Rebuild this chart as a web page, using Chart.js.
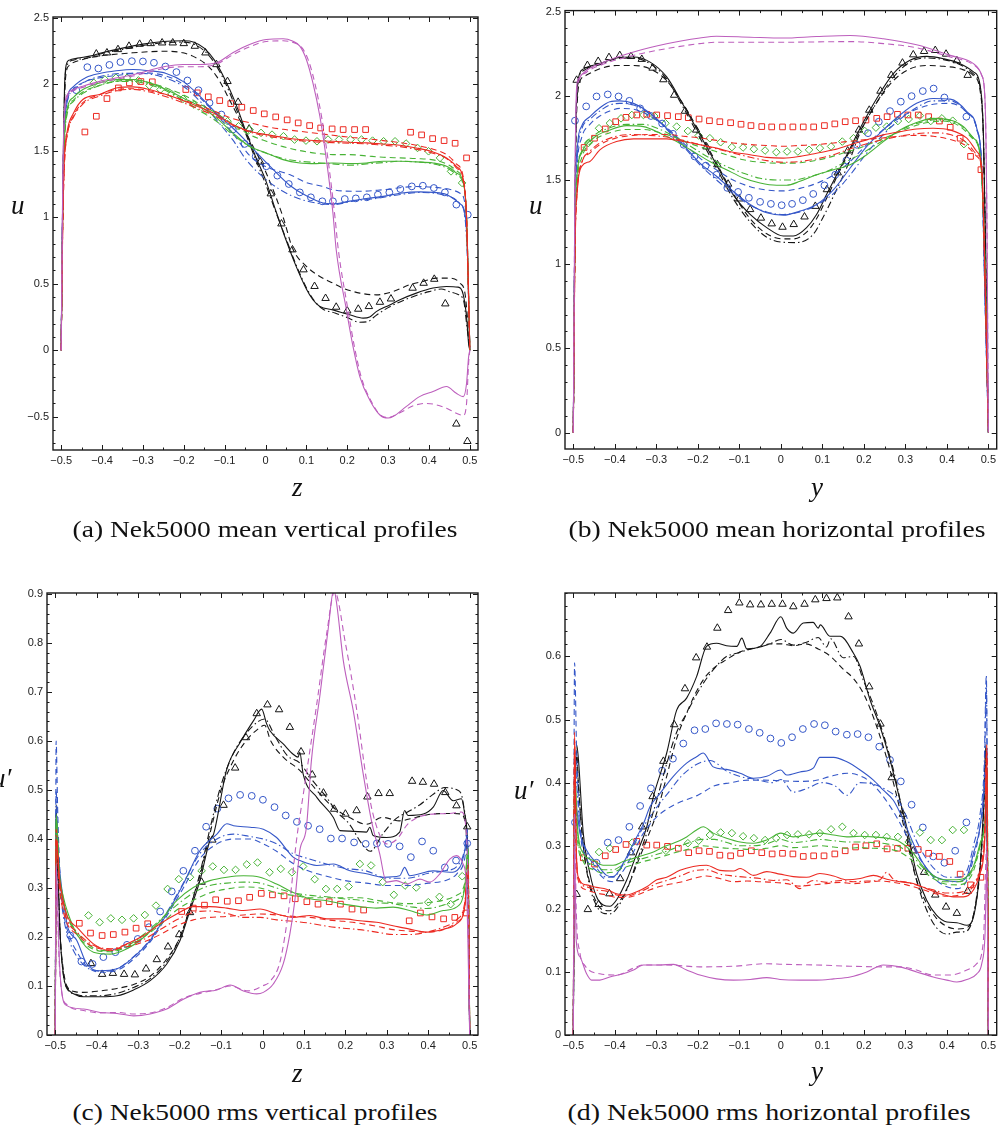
<!DOCTYPE html>
<html>
<head>
<meta charset="utf-8">
<script src="https://cdn.jsdelivr.net/npm/chart.js@4/dist/chart.umd.min.js"></script>
<style>
  html, body { margin: 0; padding: 0; background: #fff; }
  body { width: 1002px; height: 1132px; position: relative; overflow: hidden; }
  canvas { position: absolute; }
  .cap { position: absolute; font-family: "Liberation Serif", serif; font-size: 24px; line-height: 24px;
         white-space: nowrap; color: #111; transform: translateX(-50%); transform-origin: 50% 50%; }
  .lab { position: absolute; font-family: "Liberation Serif", serif; font-style: italic; font-size: 27px;
         line-height: 27px; white-space: nowrap; color: #111; }
</style>
</head>
<body>
<canvas id="cA" width="490" height="480" style="left:0;top:0"></canvas>
<canvas id="cB" width="497" height="480" style="left:505px;top:0"></canvas>
<canvas id="cC" width="490" height="490" style="left:0;top:570px"></canvas>
<canvas id="cD" width="497" height="490" style="left:505px;top:570px"></canvas>

<div class="lab" style="left:11px;top:192px">u</div>
<div class="lab" style="left:292px;top:474px">z</div>
<div class="lab" style="left:529px;top:192px">u</div>
<div class="lab" style="left:811px;top:474px">y</div>
<div class="lab" style="left:-8px;top:765px">u′</div>
<div class="lab" style="left:292px;top:1060px">z</div>
<div class="lab" style="left:514px;top:777px">u′</div>
<div class="lab" style="left:811px;top:1058px">y</div>

<div class="cap" data-w="385" style="left:265px;top:517px">(a) Nek5000 mean vertical profiles</div>
<div class="cap" data-w="417" style="left:777px;top:517px">(b) Nek5000 mean horizontal profiles</div>
<div class="cap" data-w="365" style="left:255px;top:1100px">(c) Nek5000 rms vertical profiles</div>
<div class="cap" data-w="403" style="left:769px;top:1100px">(d) Nek5000 rms horizontal profiles</div>

<script>
// ---------- (a) mean vertical profiles, u against z ----------
const mvTri = [[-0.414,2.227],[-0.388,2.235],[-0.361,2.26],[-0.334,2.285],[-0.308,2.30],[-0.281,2.305],[-0.253,2.31],[-0.227,2.31],[-0.200,2.305],[-0.173,2.285],[-0.147,2.235],[-0.120,2.147],[-0.093,2.02],[-0.067,1.864],[-0.040,1.663],[-0.013,1.415],[0.013,1.176],[0.039,0.95],[0.066,0.755],[0.093,0.605],[0.12,0.48],[0.147,0.39],[0.173,0.324],[0.2,0.296],[0.227,0.309],[0.253,0.329],[0.28,0.361],[0.307,0.386],[0.36,0.467],[0.387,0.504],[0.413,0.534],[0.44,0.349],[0.467,-0.554],[0.494,-0.685]];
const mvCirc = [[-0.463,1.954],[-0.436,2.127],[-0.409,2.117],[-0.382,2.144],[-0.355,2.165],[-0.327,2.172],[-0.3,2.17],[-0.273,2.16],[-0.245,2.132],[-0.218,2.09],[-0.191,2.027],[-0.164,1.954],[-0.137,1.859],[-0.108,1.771],[-0.08,1.658],[-0.051,1.55],[-0.024,1.457],[0.002,1.382],[0.029,1.312],[0.057,1.249],[0.084,1.186],[0.111,1.149],[0.139,1.119],[0.165,1.119],[0.194,1.136],[0.221,1.141],[0.248,1.149],[0.275,1.169],[0.303,1.186],[0.33,1.211],[0.358,1.231],[0.385,1.236],[0.412,1.219],[0.439,1.186],[0.467,1.094],[0.495,1.018]];
const mvDiam = [[-0.42,2.009],[-0.393,2.034],[-0.366,2.047],[-0.339,2.047],[-0.311,2.027],[-0.284,1.989],[-0.257,1.959],[-0.23,1.926],[-0.202,1.889],[-0.175,1.846],[-0.147,1.803],[-0.12,1.763],[-0.093,1.721],[-0.066,1.683],[-0.039,1.658],[-0.011,1.633],[0.016,1.62],[0.044,1.608],[0.071,1.583],[0.099,1.575],[0.126,1.57],[0.153,1.583],[0.18,1.583],[0.208,1.583],[0.235,1.583],[0.262,1.575],[0.289,1.57],[0.317,1.57],[0.344,1.553],[0.372,1.52],[0.399,1.495],[0.427,1.445],[0.454,1.344],[0.481,1.257]];
const mvSq = [[-0.442,1.64],[-0.414,1.758],[-0.388,1.891],[-0.36,1.971],[-0.333,2.009],[-0.305,2.019],[-0.277,2.017],[-0.195,1.959],[-0.167,1.934],[-0.14,1.904],[-0.112,1.876],[-0.085,1.853],[-0.058,1.826],[-0.03,1.801],[-0.003,1.776],[0.025,1.753],[0.053,1.731],[0.08,1.708],[0.108,1.688],[0.135,1.67],[0.163,1.663],[0.19,1.658],[0.218,1.658],[0.245,1.658],[0.355,1.638],[0.382,1.618],[0.409,1.59],[0.437,1.575],[0.464,1.555],[0.492,1.445]];
const mvBlackSolid = [[-0.5,0],[-0.496,1.2],[-0.492,1.95],[-0.488,2.14],[-0.48,2.18],[-0.46,2.195],[-0.43,2.21],[-0.4,2.235],[-0.35,2.27],[-0.3,2.30],[-0.25,2.32],[-0.2,2.325],[-0.175,2.315],[-0.15,2.27],[-0.125,2.18],[-0.1,2.04],[-0.075,1.87],[-0.05,1.66],[-0.025,1.46],[0,1.28],[0.025,1.05],[0.05,0.83],[0.075,0.63],[0.1,0.46],[0.116,0.379],[0.133,0.329],[0.165,0.303],[0.206,0.266],[0.239,0.241],[0.255,0.25],[0.271,0.29],[0.304,0.34],[0.329,0.379],[0.369,0.429],[0.41,0.467],[0.443,0.479],[0.471,0.474],[0.484,0.416],[0.492,0.25],[0.497,0.05],[0.5,0]];
const mvBlackDash = [[-0.5,0],[-0.496,1.1],[-0.492,1.85],[-0.488,2.08],[-0.48,2.14],[-0.447,2.185],[-0.406,2.21],[-0.324,2.235],[-0.243,2.247],[-0.202,2.235],[-0.178,2.21],[-0.145,2.147],[-0.12,2.06],[-0.08,1.833],[-0.039,1.583],[0.002,1.33],[0.043,1.0],[0.067,0.76],[0.1,0.63],[0.133,0.554],[0.165,0.504],[0.19,0.466],[0.231,0.429],[0.271,0.416],[0.312,0.441],[0.353,0.492],[0.386,0.517],[0.418,0.542],[0.451,0.542],[0.476,0.504],[0.488,0.43],[0.494,0.25],[0.5,0]];
const mvBlackDot = [[-0.5,0],[-0.496,1.15],[-0.492,1.9],[-0.488,2.12],[-0.47,2.18],[-0.43,2.2],[-0.4,2.23],[-0.35,2.26],[-0.3,2.29],[-0.25,2.31],[-0.2,2.315],[-0.175,2.3],[-0.15,2.25],[-0.125,2.16],[-0.1,2.02],[-0.075,1.84],[-0.05,1.64],[-0.025,1.44],[0,1.25],[0.025,1.04],[0.05,0.84],[0.075,0.64],[0.1,0.47],[0.12,0.37],[0.14,0.31],[0.17,0.28],[0.2,0.245],[0.23,0.21],[0.25,0.215],[0.27,0.26],[0.3,0.32],[0.35,0.39],[0.4,0.44],[0.43,0.46],[0.45,0.44],[0.47,0.42],[0.485,0.37],[0.492,0.2],[0.5,0]];
const mvBlueSolid = [[-0.5,0],[-0.496,1.2],[-0.492,1.7],[-0.485,1.9],[-0.47,1.98],[-0.439,2.05],[-0.406,2.08],[-0.365,2.1],[-0.324,2.11],[-0.284,2.10],[-0.243,2.08],[-0.202,2.02],[-0.161,1.91],[-0.12,1.78],[-0.08,1.67],[-0.047,1.57],[-0.014,1.46],[0.018,1.36],[0.059,1.24],[0.1,1.16],[0.141,1.106],[0.165,1.10],[0.206,1.12],[0.247,1.14],[0.288,1.156],[0.329,1.18],[0.378,1.19],[0.41,1.186],[0.443,1.17],[0.476,1.1],[0.488,1.03],[0.494,0.75],[0.5,0]];
const mvBlueDash = [[-0.5,0],[-0.496,1.15],[-0.492,1.65],[-0.485,1.87],[-0.47,1.96],[-0.44,2.02],[-0.4,2.05],[-0.35,2.07],[-0.3,2.085],[-0.243,2.06],[-0.202,2.0],[-0.161,1.9],[-0.12,1.77],[-0.08,1.63],[-0.037,1.457],[0.0,1.38],[0.059,1.32],[0.1,1.26],[0.141,1.23],[0.165,1.206],[0.228,1.194],[0.288,1.206],[0.369,1.23],[0.43,1.219],[0.476,1.18],[0.488,1.1],[0.494,0.8],[0.5,0]];
const mvBlueDot = [[-0.5,0],[-0.496,1.15],[-0.492,1.65],[-0.485,1.87],[-0.47,1.95],[-0.44,2.02],[-0.4,2.06],[-0.35,2.08],[-0.3,2.08],[-0.25,2.05],[-0.2,1.98],[-0.16,1.87],[-0.12,1.73],[-0.08,1.58],[-0.047,1.43],[0.002,1.28],[0.067,1.156],[0.124,1.106],[0.165,1.094],[0.214,1.12],[0.27,1.14],[0.33,1.17],[0.38,1.185],[0.43,1.17],[0.476,1.1],[0.488,1.0],[0.494,0.7],[0.5,0]];
const mvGreenSolid = [[-0.5,0],[-0.496,1.1],[-0.492,1.6],[-0.485,1.82],[-0.47,1.9],[-0.447,1.959],[-0.406,2.009],[-0.365,2.034],[-0.324,2.034],[-0.284,2.009],[-0.243,1.959],[-0.202,1.896],[-0.161,1.833],[-0.12,1.746],[-0.08,1.633],[-0.039,1.532],[0.002,1.482],[0.043,1.432],[0.084,1.407],[0.124,1.402],[0.165,1.407],[0.206,1.402],[0.247,1.407],[0.288,1.42],[0.329,1.42],[0.369,1.415],[0.41,1.407],[0.443,1.382],[0.467,1.332],[0.484,1.257],[0.492,1.0],[0.497,0.4],[0.5,0]];
const mvGreenDash = [[-0.5,0],[-0.496,1.05],[-0.492,1.55],[-0.485,1.8],[-0.47,1.88],[-0.447,1.94],[-0.406,1.99],[-0.365,2.02],[-0.324,2.03],[-0.284,2.01],[-0.243,1.97],[-0.202,1.92],[-0.161,1.85],[-0.12,1.78],[-0.08,1.70],[-0.039,1.62],[0.002,1.57],[0.043,1.53],[0.084,1.5],[0.124,1.48],[0.165,1.47],[0.206,1.47],[0.247,1.46],[0.288,1.45],[0.329,1.445],[0.369,1.44],[0.41,1.43],[0.443,1.40],[0.467,1.35],[0.484,1.26],[0.492,1.0],[0.497,0.4],[0.5,0]];
const mvGreenDot = [[-0.5,0],[-0.496,1.05],[-0.492,1.55],[-0.485,1.78],[-0.47,1.87],[-0.447,1.93],[-0.406,1.99],[-0.365,2.02],[-0.324,2.02],[-0.284,1.995],[-0.243,1.95],[-0.202,1.88],[-0.161,1.8],[-0.12,1.72],[-0.08,1.62],[-0.039,1.53],[0.002,1.48],[0.043,1.44],[0.084,1.42],[0.124,1.41],[0.165,1.40],[0.206,1.39],[0.247,1.40],[0.288,1.41],[0.329,1.42],[0.369,1.415],[0.41,1.40],[0.443,1.37],[0.467,1.32],[0.484,1.24],[0.492,1.0],[0.497,0.4],[0.5,0]];
const mvRedSolid = [[-0.5,0],[-0.496,1.0],[-0.492,1.45],[-0.485,1.65],[-0.47,1.78],[-0.447,1.884],[-0.406,1.921],[-0.365,1.971],[-0.324,1.979],[-0.284,1.959],[-0.243,1.921],[-0.202,1.876],[-0.161,1.826],[-0.12,1.771],[-0.08,1.696],[-0.039,1.645],[0.002,1.62],[0.043,1.6],[0.084,1.583],[0.124,1.575],[0.165,1.57],[0.206,1.563],[0.247,1.558],[0.288,1.55],[0.329,1.54],[0.369,1.52],[0.41,1.49],[0.443,1.445],[0.467,1.382],[0.484,1.28],[0.492,1.0],[0.497,0.4],[0.5,0]];
const mvRedDash = [[-0.5,0],[-0.496,0.95],[-0.492,1.4],[-0.485,1.62],[-0.47,1.76],[-0.447,1.86],[-0.406,1.92],[-0.365,1.96],[-0.324,1.965],[-0.284,1.95],[-0.243,1.92],[-0.202,1.88],[-0.161,1.84],[-0.12,1.79],[-0.08,1.74],[-0.039,1.71],[0.002,1.68],[0.043,1.66],[0.084,1.645],[0.124,1.63],[0.165,1.615],[0.206,1.6],[0.247,1.59],[0.288,1.575],[0.329,1.56],[0.369,1.54],[0.41,1.51],[0.443,1.47],[0.467,1.40],[0.484,1.3],[0.492,1.0],[0.497,0.4],[0.5,0]];
const mvRedDot = [[-0.5,0],[-0.496,0.95],[-0.492,1.4],[-0.485,1.62],[-0.47,1.75],[-0.447,1.85],[-0.406,1.91],[-0.365,1.95],[-0.324,1.96],[-0.284,1.94],[-0.243,1.905],[-0.202,1.86],[-0.161,1.81],[-0.12,1.755],[-0.08,1.69],[-0.039,1.64],[0.002,1.61],[0.043,1.59],[0.084,1.575],[0.124,1.565],[0.165,1.56],[0.206,1.555],[0.247,1.55],[0.288,1.54],[0.329,1.53],[0.369,1.51],[0.41,1.48],[0.443,1.44],[0.467,1.37],[0.484,1.27],[0.492,1.0],[0.497,0.4],[0.5,0]];
const mvMagSolid = [[-0.5,0],[-0.496,1.3],[-0.492,1.8],[-0.485,1.92],[-0.47,1.96],[-0.447,1.984],[-0.406,2.02],[-0.324,2.07],[-0.243,2.134],[-0.202,2.147],[-0.161,2.147],[-0.12,2.16],[-0.08,2.235],[-0.039,2.297],[0.002,2.335],[0.043,2.34],[0.066,2.323],[0.084,2.285],[0.1,2.185],[0.116,2.009],[0.133,1.758],[0.149,1.432],[0.165,1.031],[0.173,0.755],[0.198,0.303],[0.214,0.03],[0.231,-0.2],[0.255,-0.374],[0.28,-0.487],[0.3,-0.51],[0.312,-0.499],[0.344,-0.424],[0.377,-0.349],[0.41,-0.311],[0.443,-0.273],[0.467,-0.324],[0.484,-0.349],[0.492,-0.25],[0.497,-0.05],[0.5,0]];
const mvMagDash = [[-0.5,0],[-0.496,1.25],[-0.492,1.75],[-0.485,1.9],[-0.47,1.95],[-0.447,1.975],[-0.406,2.01],[-0.324,2.06],[-0.243,2.12],[-0.202,2.13],[-0.161,2.13],[-0.12,2.15],[-0.08,2.22],[-0.039,2.28],[0.002,2.32],[0.043,2.325],[0.07,2.31],[0.09,2.27],[0.106,2.17],[0.122,1.99],[0.138,1.74],[0.154,1.41],[0.17,1.0],[0.178,0.76],[0.202,0.3],[0.218,0.02],[0.235,-0.21],[0.258,-0.38],[0.282,-0.49],[0.3,-0.505],[0.329,-0.47],[0.36,-0.42],[0.39,-0.40],[0.41,-0.405],[0.443,-0.436],[0.467,-0.474],[0.484,-0.49],[0.492,-0.4],[0.497,-0.1],[0.5,0]];

// ---------- (b) mean horizontal profiles, u against y ----------
const mhTri = [[-0.492,2.093],[-0.466,2.181],[-0.44,2.205],[-0.414,2.228],[-0.388,2.24],[-0.361,2.234],[-0.335,2.217],[-0.309,2.165],[-0.283,2.096],[-0.257,2.004],[-0.231,1.909],[-0.204,1.797],[-0.179,1.697],[-0.153,1.591],[-0.127,1.476],[-0.1,1.388],[-0.074,1.325],[-0.048,1.274],[-0.022,1.24],[0.004,1.22],[0.031,1.236],[0.057,1.281],[0.083,1.344],[0.111,1.443],[0.137,1.543],[0.161,1.673],[0.188,1.797],[0.213,1.915],[0.24,2.028],[0.266,2.122],[0.293,2.195],[0.319,2.244],[0.345,2.264],[0.372,2.27],[0.398,2.248],[0.424,2.209],[0.45,2.122]];
const mhCirc = [[-0.496,1.852],[-0.469,1.937],[-0.444,1.996],[-0.417,2.008],[-0.391,1.996],[-0.365,1.97],[-0.339,1.925],[-0.313,1.88],[-0.286,1.835],[-0.26,1.774],[-0.234,1.709],[-0.208,1.64],[-0.181,1.585],[-0.155,1.531],[-0.129,1.453],[-0.103,1.429],[-0.077,1.394],[-0.05,1.37],[-0.024,1.358],[0.002,1.35],[0.027,1.358],[0.053,1.38],[0.078,1.417],[0.105,1.468],[0.131,1.531],[0.158,1.616],[0.183,1.709],[0.21,1.778],[0.236,1.846],[0.263,1.909],[0.289,1.965],[0.315,1.998],[0.342,2.028],[0.368,2.043],[0.394,1.99],[0.447,1.876]];
const mhDiam = [[-0.464,1.719],[-0.438,1.807],[-0.412,1.837],[-0.385,1.866],[-0.359,1.886],[-0.331,1.886],[-0.305,1.88],[-0.278,1.837],[-0.251,1.817],[-0.224,1.791],[-0.198,1.764],[-0.171,1.748],[-0.145,1.724],[-0.118,1.695],[-0.091,1.693],[-0.065,1.683],[-0.038,1.675],[-0.011,1.665],[0.015,1.669],[0.041,1.669],[0.068,1.679],[0.094,1.689],[0.121,1.699],[0.148,1.728],[0.175,1.748],[0.202,1.791],[0.229,1.811],[0.255,1.817],[0.282,1.85],[0.308,1.862],[0.335,1.882],[0.361,1.85],[0.388,1.866],[0.414,1.852],[0.441,1.713]];
const mhSq = [[-0.474,1.693],[-0.449,1.748],[-0.423,1.803],[-0.398,1.846],[-0.373,1.872],[-0.347,1.886],[-0.323,1.89],[-0.299,1.886],[-0.273,1.882],[-0.247,1.876],[-0.223,1.87],[-0.197,1.862],[-0.172,1.852],[-0.147,1.846],[-0.121,1.84],[-0.096,1.831],[-0.072,1.823],[-0.046,1.817],[-0.022,1.815],[0.004,1.815],[0.029,1.815],[0.054,1.815],[0.079,1.815],[0.105,1.823],[0.13,1.833],[0.155,1.846],[0.18,1.852],[0.205,1.856],[0.231,1.866],[0.256,1.876],[0.281,1.89],[0.306,1.886],[0.331,1.886],[0.356,1.876],[0.382,1.85],[0.408,1.813],[0.432,1.748],[0.457,1.64],[0.482,1.561]];
const mhBlackSolid = [[-0.5,0],[-0.497,1.0],[-0.494,1.8],[-0.49,2.05],[-0.485,2.13],[-0.475,2.16],[-0.436,2.191],[-0.396,2.224],[-0.355,2.23],[-0.315,2.2],[-0.275,2.112],[-0.235,1.945],[-0.195,1.768],[-0.155,1.591],[-0.115,1.413],[-0.074,1.295],[-0.034,1.217],[0.006,1.167],[0.03,1.167],[0.062,1.217],[0.086,1.295],[0.11,1.413],[0.151,1.61],[0.191,1.807],[0.231,1.984],[0.271,2.132],[0.311,2.211],[0.351,2.234],[0.392,2.22],[0.432,2.191],[0.464,2.142],[0.48,2.063],[0.488,1.77],[0.494,0.98],[0.5,0]];
const mhBlackDash = [[-0.5,0],[-0.497,0.95],[-0.494,1.7],[-0.49,1.98],[-0.485,2.08],[-0.47,2.12],[-0.436,2.16],[-0.396,2.18],[-0.355,2.18],[-0.315,2.16],[-0.275,2.09],[-0.235,1.95],[-0.195,1.78],[-0.155,1.6],[-0.115,1.42],[-0.074,1.27],[-0.034,1.18],[0.006,1.15],[0.03,1.15],[0.062,1.19],[0.086,1.27],[0.11,1.39],[0.151,1.6],[0.191,1.79],[0.231,1.96],[0.271,2.09],[0.311,2.16],[0.351,2.18],[0.392,2.175],[0.432,2.16],[0.464,2.12],[0.48,2.03],[0.488,1.74],[0.494,0.95],[0.5,0]];
const mhBlackDot = [[-0.5,0],[-0.497,1.0],[-0.494,1.75],[-0.49,2.03],[-0.485,2.12],[-0.475,2.15],[-0.436,2.185],[-0.396,2.22],[-0.355,2.225],[-0.315,2.19],[-0.275,2.1],[-0.235,1.93],[-0.195,1.75],[-0.155,1.57],[-0.115,1.39],[-0.074,1.25],[-0.034,1.16],[0.006,1.13],[0.038,1.128],[0.078,1.177],[0.1,1.27],[0.13,1.42],[0.16,1.58],[0.191,1.78],[0.231,1.96],[0.271,2.11],[0.311,2.2],[0.351,2.225],[0.392,2.215],[0.432,2.185],[0.464,2.13],[0.48,2.05],[0.488,1.76],[0.494,0.97],[0.5,0]];
const mhBlueSolid = [[-0.5,0],[-0.496,1.3],[-0.49,1.7],[-0.48,1.82],[-0.46,1.876],[-0.436,1.929],[-0.412,1.965],[-0.388,1.97],[-0.355,1.955],[-0.315,1.896],[-0.275,1.807],[-0.235,1.709],[-0.195,1.6],[-0.155,1.522],[-0.115,1.433],[-0.074,1.354],[-0.034,1.305],[0.006,1.291],[0.046,1.315],[0.086,1.354],[0.127,1.443],[0.167,1.571],[0.207,1.699],[0.247,1.797],[0.287,1.886],[0.327,1.955],[0.367,1.984],[0.408,1.98],[0.448,1.906],[0.472,1.807],[0.484,1.571],[0.492,0.78],[0.5,0]];
const mhBlueDash = [[-0.5,0],[-0.496,1.2],[-0.49,1.6],[-0.48,1.75],[-0.46,1.83],[-0.436,1.88],[-0.412,1.91],[-0.388,1.925],[-0.355,1.92],[-0.315,1.88],[-0.275,1.81],[-0.235,1.72],[-0.195,1.63],[-0.155,1.56],[-0.115,1.5],[-0.074,1.46],[-0.034,1.44],[0.006,1.435],[0.046,1.45],[0.086,1.48],[0.127,1.53],[0.167,1.61],[0.207,1.71],[0.247,1.8],[0.287,1.87],[0.327,1.92],[0.367,1.95],[0.408,1.955],[0.448,1.9],[0.472,1.8],[0.484,1.56],[0.492,0.78],[0.5,0]];
const mhBlueDot = [[-0.5,0],[-0.496,1.25],[-0.49,1.65],[-0.48,1.8],[-0.46,1.86],[-0.436,1.91],[-0.412,1.945],[-0.388,1.955],[-0.355,1.945],[-0.315,1.89],[-0.275,1.80],[-0.235,1.70],[-0.195,1.59],[-0.155,1.5],[-0.115,1.42],[-0.074,1.35],[-0.034,1.31],[0.006,1.295],[0.046,1.31],[0.086,1.35],[0.127,1.42],[0.167,1.53],[0.207,1.66],[0.247,1.77],[0.287,1.86],[0.327,1.93],[0.367,1.97],[0.408,1.97],[0.448,1.9],[0.472,1.8],[0.484,1.56],[0.492,0.78],[0.5,0]];
const mhGreenSolid = [[-0.5,0],[-0.496,1.2],[-0.49,1.55],[-0.48,1.66],[-0.452,1.748],[-0.412,1.797],[-0.371,1.823],[-0.331,1.817],[-0.291,1.778],[-0.251,1.728],[-0.211,1.669],[-0.171,1.61],[-0.131,1.561],[-0.09,1.512],[-0.05,1.482],[-0.01,1.469],[0.014,1.469],[0.046,1.492],[0.086,1.531],[0.127,1.561],[0.167,1.591],[0.207,1.65],[0.247,1.728],[0.287,1.797],[0.327,1.841],[0.367,1.866],[0.408,1.856],[0.44,1.817],[0.464,1.748],[0.48,1.65],[0.492,0.98],[0.5,0]];
const mhGreenDash = [[-0.5,0],[-0.496,1.15],[-0.49,1.5],[-0.48,1.63],[-0.452,1.73],[-0.412,1.78],[-0.371,1.80],[-0.331,1.80],[-0.291,1.78],[-0.251,1.75],[-0.211,1.71],[-0.171,1.68],[-0.131,1.65],[-0.09,1.62],[-0.05,1.605],[-0.01,1.6],[0.03,1.6],[0.07,1.61],[0.11,1.63],[0.15,1.66],[0.19,1.69],[0.23,1.73],[0.27,1.77],[0.31,1.81],[0.35,1.84],[0.39,1.85],[0.43,1.82],[0.464,1.74],[0.48,1.64],[0.492,0.98],[0.5,0]];
const mhGreenDot = [[-0.5,0],[-0.496,1.2],[-0.49,1.55],[-0.48,1.67],[-0.452,1.76],[-0.412,1.81],[-0.371,1.83],[-0.331,1.83],[-0.291,1.8],[-0.251,1.75],[-0.211,1.69],[-0.171,1.63],[-0.131,1.58],[-0.09,1.54],[-0.05,1.51],[-0.01,1.5],[0.03,1.5],[0.07,1.52],[0.11,1.55],[0.15,1.6],[0.19,1.65],[0.23,1.71],[0.27,1.77],[0.31,1.82],[0.35,1.85],[0.39,1.86],[0.43,1.83],[0.464,1.75],[0.48,1.65],[0.492,0.98],[0.5,0]];
const mhRedSolid = [[-0.5,0],[-0.496,1.1],[-0.49,1.45],[-0.48,1.58],[-0.46,1.61],[-0.436,1.679],[-0.396,1.728],[-0.355,1.744],[-0.315,1.744],[-0.275,1.744],[-0.235,1.728],[-0.195,1.709],[-0.155,1.689],[-0.115,1.665],[-0.074,1.65],[-0.034,1.634],[0.006,1.63],[0.046,1.64],[0.086,1.659],[0.127,1.679],[0.167,1.709],[0.207,1.738],[0.247,1.768],[0.287,1.787],[0.327,1.803],[0.367,1.807],[0.408,1.797],[0.448,1.748],[0.472,1.669],[0.484,1.571],[0.492,0.9],[0.5,0]];
const mhRedDash = [[-0.5,0],[-0.496,1.05],[-0.49,1.45],[-0.48,1.6],[-0.46,1.66],[-0.436,1.71],[-0.396,1.75],[-0.355,1.765],[-0.315,1.77],[-0.275,1.77],[-0.235,1.76],[-0.195,1.75],[-0.155,1.735],[-0.115,1.72],[-0.074,1.71],[-0.034,1.705],[0.006,1.70],[0.046,1.705],[0.086,1.71],[0.127,1.72],[0.167,1.73],[0.207,1.74],[0.247,1.75],[0.287,1.76],[0.327,1.765],[0.367,1.76],[0.408,1.74],[0.448,1.70],[0.472,1.64],[0.484,1.55],[0.492,0.9],[0.5,0]];
const mhRedDot = [[-0.5,0],[-0.496,1.05],[-0.49,1.45],[-0.48,1.6],[-0.46,1.67],[-0.436,1.72],[-0.396,1.76],[-0.355,1.77],[-0.315,1.765],[-0.275,1.755],[-0.235,1.735],[-0.195,1.71],[-0.155,1.685],[-0.115,1.66],[-0.074,1.635],[-0.034,1.615],[0.006,1.605],[0.046,1.61],[0.086,1.625],[0.127,1.65],[0.167,1.685],[0.207,1.715],[0.247,1.74],[0.287,1.76],[0.327,1.775],[0.367,1.78],[0.408,1.77],[0.448,1.72],[0.472,1.65],[0.484,1.56],[0.492,0.9],[0.5,0]];
const mhMagSolid = [[-0.5,0],[-0.496,1.5],[-0.492,2.05],[-0.488,2.1],[-0.468,2.152],[-0.436,2.191],[-0.355,2.26],[-0.275,2.309],[-0.195,2.343],[-0.155,2.354],[-0.074,2.348],[0.006,2.343],[0.086,2.352],[0.167,2.358],[0.247,2.339],[0.327,2.303],[0.408,2.24],[0.464,2.191],[0.484,2.122],[0.492,1.965],[0.496,1.374],[0.5,0]];
const mhMagDash = [[-0.5,0],[-0.496,1.45],[-0.492,2.0],[-0.488,2.08],[-0.468,2.14],[-0.436,2.18],[-0.355,2.24],[-0.275,2.28],[-0.195,2.31],[-0.155,2.318],[-0.074,2.318],[0.006,2.318],[0.086,2.32],[0.167,2.322],[0.247,2.31],[0.327,2.285],[0.408,2.23],[0.464,2.185],[0.484,2.12],[0.492,1.96],[0.496,1.37],[0.5,0]];

// ---------- (c) rms vertical profiles, u' against z ----------
const rvTri = [[-0.414,0.146],[-0.387,0.124],[-0.361,0.126],[-0.334,0.124],[-0.308,0.123],[-0.281,0.135],[-0.255,0.154],[-0.228,0.18],[-0.201,0.205],[-0.175,0.25],[-0.147,0.312],[-0.121,0.398],[-0.094,0.469],[-0.066,0.545],[-0.04,0.607],[-0.014,0.656],[0.012,0.674],[0.04,0.664],[0.066,0.628],[0.093,0.578],[0.12,0.531],[0.147,0.494],[0.173,0.461],[0.2,0.451],[0.227,0.458],[0.253,0.486],[0.28,0.493],[0.307,0.493],[0.361,0.518],[0.387,0.516],[0.414,0.512],[0.441,0.495],[0.468,0.468],[0.494,0.425]];
const rvCirc = [[-0.464,0.203],[-0.437,0.15],[-0.41,0.145],[-0.384,0.159],[-0.355,0.169],[-0.327,0.184],[-0.301,0.196],[-0.274,0.22],[-0.247,0.252],[-0.219,0.293],[-0.191,0.335],[-0.163,0.376],[-0.136,0.425],[-0.109,0.462],[-0.082,0.483],[-0.054,0.49],[-0.026,0.488],[0.001,0.48],[0.029,0.465],[0.056,0.448],[0.083,0.435],[0.11,0.427],[0.138,0.42],[0.165,0.401],[0.192,0.401],[0.221,0.393],[0.249,0.39],[0.276,0.391],[0.303,0.39],[0.331,0.385],[0.358,0.363],[0.385,0.395],[0.412,0.376],[0.44,0.342],[0.467,0.356],[0.494,0.391]];
const rvDiam = [[-0.42,0.244],[-0.393,0.23],[-0.366,0.238],[-0.339,0.235],[-0.311,0.238],[-0.284,0.245],[-0.257,0.264],[-0.229,0.298],[-0.202,0.318],[-0.175,0.322],[-0.147,0.335],[-0.12,0.344],[-0.093,0.337],[-0.065,0.337],[-0.038,0.348],[-0.012,0.352],[0.017,0.332],[0.044,0.339],[0.071,0.332],[0.098,0.344],[0.126,0.318],[0.153,0.298],[0.18,0.298],[0.208,0.303],[0.235,0.349],[0.262,0.346],[0.29,0.312],[0.317,0.286],[0.344,0.305],[0.371,0.301],[0.4,0.271],[0.427,0.282],[0.454,0.267],[0.482,0.324]];
const rvSq = [[-0.442,0.228],[-0.415,0.208],[-0.387,0.203],[-0.36,0.205],[-0.332,0.21],[-0.305,0.218],[-0.277,0.227],[-0.195,0.252],[-0.167,0.259],[-0.14,0.265],[-0.113,0.276],[-0.085,0.273],[-0.058,0.274],[-0.031,0.281],[-0.003,0.289],[0.024,0.286],[0.052,0.284],[0.079,0.278],[0.107,0.272],[0.134,0.267],[0.161,0.272],[0.188,0.267],[0.216,0.257],[0.244,0.255],[0.354,0.233],[0.381,0.249],[0.409,0.241],[0.437,0.237],[0.464,0.24],[0.491,0.249]];
const rvBlackSolid = [[-0.5,0],[-0.498,0.47],[-0.494,0.35],[-0.488,0.2],[-0.48,0.12],[-0.472,0.097],[-0.456,0.084],[-0.432,0.078],[-0.392,0.078],[-0.351,0.08],[-0.311,0.092],[-0.271,0.111],[-0.231,0.145],[-0.199,0.193],[-0.175,0.254],[-0.151,0.315],[-0.127,0.397],[-0.118,0.41],[-0.086,0.543],[-0.054,0.597],[-0.022,0.641],[-0.002,0.665],[0.01,0.635],[0.018,0.621],[0.05,0.594],[0.074,0.573],[0.086,0.567],[0.09,0.577],[0.098,0.533],[0.131,0.485],[0.171,0.444],[0.187,0.417],[0.211,0.416],[0.251,0.414],[0.259,0.424],[0.267,0.407],[0.299,0.403],[0.331,0.414],[0.343,0.458],[0.351,0.448],[0.388,0.451],[0.412,0.465],[0.436,0.499],[0.46,0.478],[0.48,0.482],[0.488,0.451],[0.496,0.356],[0.5,0]];
const rvBlackDash = [[-0.5,0],[-0.498,0.45],[-0.494,0.33],[-0.488,0.2],[-0.48,0.13],[-0.472,0.1],[-0.45,0.088],[-0.432,0.087],[-0.392,0.09],[-0.351,0.095],[-0.311,0.103],[-0.271,0.12],[-0.231,0.155],[-0.199,0.2],[-0.175,0.26],[-0.151,0.325],[-0.127,0.41],[-0.1,0.5],[-0.07,0.56],[-0.04,0.6],[-0.01,0.625],[0.005,0.632],[0.02,0.6],[0.05,0.567],[0.09,0.54],[0.13,0.5],[0.17,0.465],[0.21,0.444],[0.25,0.43],[0.29,0.444],[0.33,0.437],[0.37,0.444],[0.41,0.451],[0.45,0.452],[0.48,0.451],[0.49,0.43],[0.496,0.35],[0.5,0]];
const rvBlackDot = [[-0.5,0],[-0.498,0.45],[-0.494,0.34],[-0.488,0.2],[-0.48,0.12],[-0.472,0.095],[-0.45,0.083],[-0.432,0.08],[-0.392,0.08],[-0.351,0.085],[-0.311,0.097],[-0.271,0.115],[-0.231,0.15],[-0.199,0.2],[-0.175,0.26],[-0.151,0.33],[-0.127,0.42],[-0.1,0.51],[-0.07,0.575],[-0.04,0.615],[-0.01,0.64],[0.005,0.645],[0.03,0.61],[0.06,0.57],[0.09,0.555],[0.12,0.52],[0.15,0.49],[0.18,0.455],[0.21,0.43],[0.24,0.39],[0.26,0.375],[0.29,0.41],[0.32,0.44],[0.35,0.455],[0.38,0.47],[0.41,0.49],[0.44,0.505],[0.47,0.5],[0.485,0.47],[0.494,0.35],[0.5,0]];
const rvBlueSolid = [[-0.5,0],[-0.498,0.42],[-0.49,0.34],[-0.48,0.27],[-0.47,0.22],[-0.448,0.193],[-0.424,0.145],[-0.392,0.131],[-0.351,0.135],[-0.311,0.159],[-0.271,0.193],[-0.231,0.247],[-0.191,0.308],[-0.151,0.376],[-0.11,0.41],[-0.086,0.431],[-0.07,0.427],[-0.03,0.424],[0.002,0.42],[0.034,0.403],[0.074,0.363],[0.09,0.356],[0.131,0.346],[0.171,0.349],[0.211,0.335],[0.251,0.329],[0.291,0.322],[0.331,0.325],[0.343,0.342],[0.355,0.325],[0.412,0.335],[0.452,0.332],[0.476,0.342],[0.488,0.376],[0.494,0.41],[0.5,0]];
const rvBlueDash = [[-0.5,0],[-0.498,0.6],[-0.494,0.45],[-0.488,0.32],[-0.48,0.25],[-0.465,0.2],[-0.448,0.17],[-0.424,0.14],[-0.392,0.128],[-0.351,0.132],[-0.311,0.155],[-0.271,0.19],[-0.231,0.243],[-0.191,0.3],[-0.151,0.36],[-0.11,0.39],[-0.07,0.4],[-0.03,0.4],[0.002,0.39],[0.034,0.375],[0.074,0.35],[0.11,0.335],[0.15,0.325],[0.2,0.315],[0.25,0.31],[0.3,0.305],[0.35,0.305],[0.4,0.31],[0.44,0.315],[0.47,0.33],[0.488,0.36],[0.494,0.4],[0.5,0]];
const rvBlueDot = [[-0.5,0],[-0.498,0.5],[-0.494,0.4],[-0.488,0.3],[-0.48,0.24],[-0.465,0.19],[-0.448,0.16],[-0.424,0.138],[-0.392,0.13],[-0.351,0.135],[-0.311,0.16],[-0.271,0.195],[-0.231,0.25],[-0.191,0.31],[-0.151,0.37],[-0.11,0.4],[-0.07,0.41],[-0.03,0.405],[0.002,0.4],[0.034,0.39],[0.074,0.37],[0.11,0.36],[0.15,0.35],[0.2,0.34],[0.25,0.335],[0.3,0.32],[0.35,0.32],[0.4,0.33],[0.44,0.335],[0.47,0.345],[0.488,0.38],[0.494,0.42],[0.5,0]];
const rvGreenSolid = [[-0.5,0],[-0.498,0.45],[-0.49,0.33],[-0.48,0.28],[-0.47,0.25],[-0.448,0.206],[-0.408,0.169],[-0.367,0.165],[-0.327,0.176],[-0.287,0.199],[-0.247,0.233],[-0.207,0.274],[-0.167,0.301],[-0.127,0.315],[-0.086,0.322],[-0.046,0.325],[-0.006,0.322],[0.034,0.308],[0.074,0.291],[0.115,0.278],[0.155,0.274],[0.195,0.267],[0.235,0.262],[0.275,0.259],[0.315,0.261],[0.355,0.254],[0.396,0.245],[0.436,0.254],[0.468,0.261],[0.488,0.301],[0.496,0.376],[0.5,0]];
const rvGreenDash = [[-0.5,0],[-0.498,0.44],[-0.49,0.32],[-0.48,0.27],[-0.47,0.24],[-0.448,0.205],[-0.408,0.175],[-0.367,0.17],[-0.327,0.18],[-0.287,0.2],[-0.247,0.225],[-0.207,0.255],[-0.167,0.275],[-0.127,0.29],[-0.086,0.298],[-0.046,0.302],[-0.006,0.3],[0.034,0.29],[0.074,0.285],[0.115,0.28],[0.155,0.28],[0.195,0.28],[0.235,0.28],[0.275,0.275],[0.315,0.27],[0.355,0.268],[0.396,0.27],[0.436,0.275],[0.468,0.285],[0.488,0.31],[0.496,0.38],[0.5,0]];
const rvGreenDot = [[-0.5,0],[-0.498,0.44],[-0.49,0.32],[-0.48,0.27],[-0.47,0.24],[-0.448,0.21],[-0.408,0.178],[-0.367,0.172],[-0.327,0.182],[-0.287,0.205],[-0.247,0.235],[-0.207,0.265],[-0.167,0.29],[-0.127,0.305],[-0.086,0.31],[-0.046,0.312],[-0.006,0.31],[0.034,0.3],[0.074,0.29],[0.115,0.285],[0.155,0.282],[0.195,0.278],[0.235,0.275],[0.275,0.27],[0.315,0.268],[0.355,0.262],[0.396,0.258],[0.436,0.265],[0.468,0.275],[0.488,0.3],[0.496,0.37],[0.5,0]];
const rvRedSolid = [[-0.5,0],[-0.498,0.4],[-0.49,0.32],[-0.48,0.27],[-0.47,0.24],[-0.448,0.22],[-0.408,0.186],[-0.367,0.172],[-0.327,0.186],[-0.287,0.203],[-0.247,0.227],[-0.207,0.247],[-0.167,0.262],[-0.127,0.262],[-0.086,0.259],[-0.046,0.254],[-0.006,0.257],[0.034,0.247],[0.074,0.24],[0.115,0.244],[0.155,0.237],[0.195,0.237],[0.235,0.233],[0.275,0.23],[0.315,0.223],[0.355,0.216],[0.396,0.21],[0.436,0.216],[0.468,0.227],[0.488,0.261],[0.496,0.342],[0.5,0]];
const rvRedDash = [[-0.5,0],[-0.498,0.4],[-0.49,0.3],[-0.48,0.25],[-0.47,0.225],[-0.448,0.205],[-0.408,0.18],[-0.367,0.175],[-0.327,0.18],[-0.287,0.19],[-0.247,0.205],[-0.207,0.223],[-0.167,0.235],[-0.127,0.24],[-0.086,0.242],[-0.046,0.245],[-0.006,0.247],[0.034,0.245],[0.074,0.242],[0.115,0.24],[0.155,0.235],[0.195,0.232],[0.235,0.228],[0.275,0.222],[0.315,0.215],[0.355,0.212],[0.396,0.21],[0.436,0.215],[0.468,0.23],[0.488,0.26],[0.496,0.34],[0.5,0]];
const rvRedDot = [[-0.5,0],[-0.498,0.42],[-0.49,0.31],[-0.48,0.26],[-0.47,0.232],[-0.448,0.21],[-0.408,0.183],[-0.367,0.176],[-0.327,0.185],[-0.287,0.195],[-0.247,0.215],[-0.207,0.235],[-0.167,0.25],[-0.127,0.253],[-0.086,0.248],[-0.046,0.24],[-0.006,0.24],[0.034,0.235],[0.074,0.232],[0.115,0.228],[0.155,0.222],[0.195,0.218],[0.235,0.215],[0.275,0.21],[0.315,0.205],[0.355,0.205],[0.396,0.21],[0.436,0.22],[0.468,0.235],[0.488,0.27],[0.496,0.35],[0.5,0]];
const rvMagSolid = [[-0.5,0],[-0.498,0.35],[-0.49,0.15],[-0.484,0.085],[-0.472,0.06],[-0.432,0.053],[-0.392,0.046],[-0.351,0.044],[-0.311,0.039],[-0.271,0.043],[-0.231,0.053],[-0.191,0.073],[-0.151,0.087],[-0.11,0.092],[-0.078,0.102],[-0.046,0.09],[-0.014,0.084],[0.002,0.087],[0.026,0.104],[0.05,0.145],[0.066,0.206],[0.078,0.274],[0.09,0.376],[0.106,0.424],[0.118,0.56],[0.139,0.696],[0.159,0.832],[0.172,0.91],[0.179,0.88],[0.195,0.764],[0.219,0.662],[0.243,0.533],[0.263,0.437],[0.283,0.369],[0.299,0.312],[0.323,0.315],[0.347,0.308],[0.38,0.318],[0.404,0.312],[0.428,0.329],[0.452,0.359],[0.468,0.366],[0.484,0.349],[0.492,0.308],[0.5,0]];
const rvMagDash = [[-0.5,0],[-0.498,0.3],[-0.49,0.14],[-0.484,0.085],[-0.472,0.062],[-0.432,0.05],[-0.392,0.045],[-0.351,0.046],[-0.311,0.043],[-0.271,0.045],[-0.231,0.056],[-0.191,0.075],[-0.151,0.085],[-0.11,0.093],[-0.078,0.1],[-0.034,0.09],[0.0,0.1],[0.02,0.111],[0.043,0.152],[0.066,0.274],[0.082,0.397],[0.1,0.5],[0.13,0.67],[0.155,0.82],[0.174,0.905],[0.2,0.8],[0.228,0.66],[0.251,0.52],[0.27,0.44],[0.3,0.39],[0.325,0.4],[0.35,0.43],[0.4,0.45],[0.45,0.452],[0.48,0.455],[0.49,0.43],[0.496,0.3],[0.5,0]];

// ---------- (d) rms horizontal profiles, u' against y ----------
const rhTri = [[-0.492,0.223],[-0.465,0.199],[-0.439,0.207],[-0.413,0.224],[-0.387,0.248],[-0.361,0.289],[-0.334,0.33],[-0.309,0.378],[-0.283,0.434],[-0.257,0.492],[-0.231,0.549],[-0.204,0.598],[-0.178,0.615],[-0.153,0.645],[-0.127,0.673],[-0.1,0.685],[-0.074,0.682],[-0.048,0.682],[-0.022,0.683],[0.004,0.683],[0.03,0.679],[0.057,0.683],[0.083,0.69],[0.11,0.692],[0.136,0.693],[0.163,0.663],[0.188,0.62],[0.213,0.552],[0.24,0.493],[0.267,0.408],[0.294,0.35],[0.319,0.292],[0.345,0.258],[0.372,0.222],[0.398,0.203],[0.424,0.193],[0.45,0.228]];
const rhCirc = [[-0.496,0.337],[-0.444,0.273],[-0.417,0.305],[-0.391,0.309],[-0.365,0.33],[-0.339,0.363],[-0.313,0.391],[-0.286,0.419],[-0.26,0.438],[-0.235,0.462],[-0.208,0.483],[-0.182,0.485],[-0.156,0.494],[-0.13,0.493],[-0.104,0.492],[-0.077,0.485],[-0.051,0.479],[-0.025,0.47],[0.001,0.463],[0.027,0.472],[0.053,0.485],[0.08,0.493],[0.106,0.491],[0.132,0.481],[0.159,0.476],[0.185,0.477],[0.211,0.472],[0.237,0.457],[0.263,0.436],[0.289,0.402],[0.315,0.365],[0.342,0.329],[0.367,0.283],[0.394,0.273],[0.42,0.292],[0.447,0.337]];
const rhDiam = [[-0.438,0.29],[-0.412,0.296],[-0.358,0.305],[-0.277,0.292],[-0.224,0.304],[-0.198,0.308],[-0.171,0.317],[-0.145,0.321],[-0.118,0.32],[-0.091,0.315],[-0.065,0.312],[-0.038,0.309],[-0.011,0.312],[0.015,0.317],[0.041,0.318],[0.068,0.318],[0.094,0.32],[0.121,0.326],[0.148,0.33],[0.175,0.32],[0.202,0.317],[0.229,0.317],[0.255,0.314],[0.282,0.314],[0.308,0.306],[0.335,0.321],[0.361,0.309],[0.388,0.309],[0.414,0.325],[0.441,0.325]];
const rhSq = [[-0.476,0.281],[-0.449,0.271],[-0.423,0.284],[-0.398,0.294],[-0.373,0.302],[-0.347,0.307],[-0.323,0.301],[-0.299,0.301],[-0.273,0.299],[-0.247,0.296],[-0.222,0.289],[-0.197,0.292],[-0.172,0.291],[-0.147,0.285],[-0.121,0.284],[-0.097,0.288],[-0.071,0.292],[-0.046,0.289],[-0.021,0.287],[0.004,0.288],[0.029,0.287],[0.054,0.283],[0.079,0.284],[0.104,0.284],[0.13,0.287],[0.155,0.292],[0.18,0.298],[0.205,0.3],[0.231,0.303],[0.256,0.295],[0.281,0.296],[0.306,0.296],[0.331,0.294],[0.356,0.288],[0.382,0.283],[0.407,0.275],[0.432,0.255],[0.457,0.238],[0.482,0.25]];
const rhBlackSolid = [[-0.5,0],[-0.497,0.3],[-0.492,0.46],[-0.488,0.44],[-0.476,0.32],[-0.46,0.256],[-0.444,0.219],[-0.428,0.206],[-0.412,0.204],[-0.396,0.214],[-0.371,0.246],[-0.347,0.288],[-0.323,0.33],[-0.307,0.378],[-0.275,0.447],[-0.251,0.515],[-0.227,0.534],[-0.203,0.568],[-0.179,0.616],[-0.155,0.621],[-0.131,0.617],[-0.106,0.616],[-0.094,0.629],[-0.082,0.612],[-0.05,0.616],[-0.026,0.637],[0.0,0.663],[0.014,0.645],[0.03,0.637],[0.054,0.653],[0.078,0.654],[0.09,0.645],[0.095,0.65],[0.118,0.632],[0.143,0.632],[0.175,0.605],[0.191,0.584],[0.215,0.531],[0.239,0.489],[0.263,0.436],[0.287,0.372],[0.303,0.33],[0.327,0.256],[0.351,0.214],[0.375,0.19],[0.4,0.179],[0.424,0.178],[0.448,0.174],[0.464,0.187],[0.48,0.267],[0.488,0.357],[0.494,0.46],[0.497,0.35],[0.5,0]];
const rhBlackDash = [[-0.5,0],[-0.497,0.3],[-0.492,0.45],[-0.488,0.4],[-0.476,0.3],[-0.46,0.24],[-0.444,0.21],[-0.428,0.198],[-0.412,0.197],[-0.396,0.205],[-0.371,0.232],[-0.347,0.27],[-0.323,0.31],[-0.3,0.35],[-0.275,0.41],[-0.251,0.47],[-0.227,0.51],[-0.203,0.545],[-0.179,0.57],[-0.155,0.585],[-0.131,0.595],[-0.106,0.605],[-0.074,0.612],[-0.05,0.615],[-0.026,0.62],[0.0,0.62],[0.03,0.617],[0.06,0.62],[0.09,0.612],[0.12,0.6],[0.15,0.58],[0.175,0.565],[0.2,0.54],[0.225,0.5],[0.25,0.45],[0.275,0.39],[0.3,0.32],[0.325,0.25],[0.35,0.21],[0.375,0.185],[0.4,0.172],[0.424,0.168],[0.448,0.17],[0.464,0.19],[0.48,0.26],[0.488,0.34],[0.494,0.44],[0.497,0.33],[0.5,0]];
const rhBlackDot = [[-0.5,0],[-0.497,0.28],[-0.492,0.44],[-0.488,0.4],[-0.476,0.3],[-0.46,0.235],[-0.444,0.205],[-0.428,0.193],[-0.412,0.192],[-0.396,0.2],[-0.371,0.23],[-0.347,0.275],[-0.323,0.32],[-0.3,0.37],[-0.275,0.43],[-0.251,0.48],[-0.227,0.51],[-0.203,0.54],[-0.179,0.565],[-0.155,0.585],[-0.131,0.6],[-0.106,0.605],[-0.082,0.61],[-0.05,0.615],[-0.026,0.62],[0.0,0.627],[0.03,0.618],[0.06,0.622],[0.09,0.63],[0.11,0.615],[0.12,0.628],[0.15,0.598],[0.175,0.6],[0.2,0.56],[0.225,0.52],[0.25,0.47],[0.275,0.41],[0.3,0.33],[0.325,0.25],[0.35,0.2],[0.375,0.17],[0.4,0.16],[0.424,0.163],[0.448,0.165],[0.464,0.19],[0.48,0.27],[0.488,0.35],[0.494,0.45],[0.497,0.33],[0.5,0]];
const rhBlueSolid = [[-0.5,0],[-0.497,0.38],[-0.492,0.36],[-0.484,0.32],[-0.468,0.293],[-0.444,0.272],[-0.42,0.253],[-0.404,0.251],[-0.38,0.272],[-0.355,0.304],[-0.331,0.335],[-0.315,0.362],[-0.291,0.383],[-0.259,0.41],[-0.227,0.431],[-0.203,0.441],[-0.187,0.447],[-0.163,0.425],[-0.131,0.421],[-0.098,0.415],[-0.066,0.407],[-0.034,0.41],[0.0,0.42],[0.014,0.412],[0.046,0.417],[0.078,0.423],[0.094,0.44],[0.127,0.44],[0.159,0.433],[0.191,0.42],[0.223,0.404],[0.247,0.388],[0.271,0.372],[0.295,0.341],[0.319,0.304],[0.343,0.272],[0.367,0.253],[0.392,0.246],[0.424,0.243],[0.448,0.251],[0.464,0.288],[0.48,0.33],[0.49,0.39],[0.495,0.42],[0.5,0]];
const rhBlueDash = [[-0.5,0],[-0.497,0.59],[-0.492,0.45],[-0.484,0.33],[-0.468,0.28],[-0.444,0.26],[-0.42,0.245],[-0.404,0.243],[-0.38,0.26],[-0.355,0.29],[-0.331,0.32],[-0.3,0.345],[-0.27,0.36],[-0.24,0.37],[-0.2,0.38],[-0.16,0.395],[-0.12,0.4],[-0.08,0.404],[-0.04,0.404],[0.0,0.403],[0.04,0.402],[0.08,0.403],[0.12,0.41],[0.16,0.415],[0.2,0.408],[0.225,0.395],[0.25,0.375],[0.275,0.35],[0.3,0.32],[0.325,0.29],[0.35,0.265],[0.375,0.245],[0.4,0.235],[0.424,0.232],[0.448,0.245],[0.464,0.28],[0.48,0.33],[0.49,0.4],[0.495,0.55],[0.5,0]];
const rhBlueDot = [[-0.5,0],[-0.497,0.45],[-0.492,0.4],[-0.484,0.33],[-0.468,0.29],[-0.444,0.265],[-0.42,0.25],[-0.404,0.25],[-0.38,0.27],[-0.355,0.3],[-0.331,0.33],[-0.3,0.36],[-0.27,0.385],[-0.24,0.41],[-0.2,0.43],[-0.17,0.435],[-0.13,0.418],[-0.1,0.41],[-0.06,0.405],[-0.02,0.4],[0.0,0.405],[0.03,0.385],[0.06,0.39],[0.1,0.4],[0.13,0.395],[0.16,0.38],[0.19,0.4],[0.22,0.398],[0.25,0.39],[0.28,0.375],[0.3,0.35],[0.325,0.31],[0.35,0.28],[0.375,0.26],[0.4,0.25],[0.424,0.25],[0.448,0.26],[0.464,0.3],[0.48,0.35],[0.49,0.43],[0.495,0.57],[0.5,0]];
const rhGreenSolid = [[-0.5,0],[-0.497,0.42],[-0.49,0.33],[-0.476,0.288],[-0.452,0.277],[-0.428,0.269],[-0.404,0.269],[-0.38,0.275],[-0.355,0.28],[-0.331,0.285],[-0.307,0.29],[-0.283,0.298],[-0.259,0.304],[-0.227,0.314],[-0.203,0.325],[-0.187,0.33],[-0.163,0.32],[-0.131,0.312],[-0.098,0.306],[-0.066,0.304],[-0.034,0.309],[0.0,0.32],[0.03,0.314],[0.062,0.317],[0.094,0.32],[0.127,0.317],[0.159,0.314],[0.191,0.315],[0.223,0.314],[0.255,0.312],[0.287,0.306],[0.319,0.288],[0.343,0.267],[0.367,0.253],[0.392,0.246],[0.424,0.246],[0.448,0.251],[0.464,0.267],[0.48,0.304],[0.492,0.341],[0.497,0.42],[0.5,0]];
const rhGreenDash = [[-0.5,0],[-0.497,0.4],[-0.49,0.31],[-0.476,0.275],[-0.452,0.262],[-0.428,0.257],[-0.404,0.258],[-0.38,0.265],[-0.355,0.27],[-0.331,0.275],[-0.3,0.28],[-0.26,0.288],[-0.22,0.295],[-0.19,0.3],[-0.16,0.298],[-0.13,0.296],[-0.1,0.295],[-0.066,0.294],[-0.034,0.296],[0.0,0.3],[0.03,0.297],[0.062,0.298],[0.094,0.3],[0.127,0.298],[0.159,0.296],[0.191,0.297],[0.223,0.296],[0.255,0.295],[0.287,0.29],[0.319,0.275],[0.343,0.26],[0.367,0.248],[0.392,0.24],[0.424,0.238],[0.448,0.243],[0.464,0.26],[0.48,0.3],[0.492,0.34],[0.497,0.41],[0.5,0]];
const rhGreenDot = [[-0.5,0],[-0.497,0.41],[-0.49,0.32],[-0.476,0.28],[-0.452,0.27],[-0.428,0.262],[-0.404,0.262],[-0.38,0.27],[-0.355,0.276],[-0.331,0.28],[-0.3,0.286],[-0.26,0.295],[-0.22,0.305],[-0.19,0.31],[-0.16,0.31],[-0.13,0.305],[-0.1,0.3],[-0.066,0.3],[-0.034,0.303],[0.0,0.31],[0.03,0.305],[0.062,0.307],[0.094,0.31],[0.127,0.308],[0.159,0.306],[0.191,0.306],[0.223,0.305],[0.255,0.303],[0.287,0.298],[0.319,0.282],[0.343,0.265],[0.367,0.252],[0.392,0.243],[0.424,0.243],[0.448,0.248],[0.464,0.265],[0.48,0.3],[0.492,0.34],[0.497,0.41],[0.5,0]];
const rhRedSolid = [[-0.5,0],[-0.497,0.48],[-0.493,0.3],[-0.488,0.25],[-0.468,0.238],[-0.444,0.234],[-0.42,0.231],[-0.396,0.224],[-0.371,0.222],[-0.347,0.227],[-0.323,0.235],[-0.299,0.246],[-0.275,0.25],[-0.243,0.261],[-0.211,0.267],[-0.179,0.269],[-0.147,0.261],[-0.114,0.26],[-0.098,0.264],[-0.066,0.253],[-0.034,0.259],[-0.002,0.255],[0.03,0.251],[0.062,0.25],[0.094,0.256],[0.127,0.252],[0.159,0.246],[0.191,0.248],[0.223,0.253],[0.255,0.247],[0.287,0.243],[0.319,0.24],[0.351,0.232],[0.384,0.224],[0.416,0.219],[0.44,0.219],[0.464,0.23],[0.48,0.256],[0.492,0.32],[0.496,0.45],[0.5,0]];
const rhRedDash = [[-0.5,0],[-0.497,0.45],[-0.493,0.29],[-0.488,0.245],[-0.468,0.23],[-0.444,0.225],[-0.42,0.222],[-0.396,0.218],[-0.371,0.218],[-0.347,0.222],[-0.323,0.228],[-0.299,0.234],[-0.275,0.238],[-0.243,0.242],[-0.211,0.248],[-0.179,0.252],[-0.147,0.248],[-0.114,0.243],[-0.082,0.244],[-0.05,0.243],[-0.018,0.242],[0.014,0.24],[0.046,0.236],[0.078,0.238],[0.11,0.24],[0.143,0.242],[0.175,0.24],[0.207,0.242],[0.239,0.244],[0.271,0.242],[0.303,0.238],[0.335,0.232],[0.367,0.225],[0.4,0.22],[0.432,0.222],[0.456,0.23],[0.472,0.245],[0.484,0.27],[0.492,0.33],[0.496,0.45],[0.5,0]];
const rhRedDot = [[-0.5,0],[-0.497,0.47],[-0.493,0.3],[-0.488,0.25],[-0.468,0.235],[-0.444,0.23],[-0.42,0.228],[-0.396,0.222],[-0.371,0.22],[-0.347,0.225],[-0.323,0.232],[-0.299,0.24],[-0.275,0.245],[-0.243,0.252],[-0.211,0.26],[-0.179,0.262],[-0.147,0.255],[-0.114,0.252],[-0.082,0.25],[-0.05,0.248],[-0.018,0.245],[0.014,0.246],[0.046,0.232],[0.062,0.24],[0.078,0.245],[0.11,0.242],[0.143,0.245],[0.175,0.243],[0.207,0.244],[0.239,0.246],[0.255,0.258],[0.271,0.247],[0.303,0.242],[0.335,0.236],[0.367,0.23],[0.4,0.225],[0.432,0.226],[0.456,0.234],[0.472,0.248],[0.484,0.275],[0.492,0.34],[0.496,0.46],[0.5,0]];
const rhMagSolid = [[-0.5,0],[-0.497,0.3],[-0.493,0.15],[-0.484,0.124],[-0.468,0.097],[-0.456,0.087],[-0.436,0.087],[-0.412,0.092],[-0.38,0.097],[-0.355,0.103],[-0.331,0.111],[-0.291,0.111],[-0.259,0.112],[-0.227,0.103],[-0.195,0.095],[-0.155,0.089],[-0.114,0.087],[-0.074,0.088],[-0.034,0.091],[-0.002,0.088],[0.046,0.087],[0.086,0.087],[0.127,0.089],[0.167,0.092],[0.207,0.1],[0.247,0.111],[0.287,0.108],[0.327,0.1],[0.367,0.092],[0.4,0.087],[0.424,0.084],[0.448,0.088],[0.472,0.097],[0.484,0.113],[0.492,0.161],[0.496,0.267],[0.5,0]];
const rhMagDash = [[-0.5,0],[-0.497,0.35],[-0.493,0.2],[-0.484,0.13],[-0.472,0.11],[-0.436,0.097],[-0.396,0.095],[-0.355,0.106],[-0.331,0.111],[-0.275,0.111],[-0.195,0.108],[-0.114,0.109],[-0.034,0.113],[0.006,0.112],[0.086,0.111],[0.167,0.109],[0.247,0.108],[0.287,0.108],[0.327,0.103],[0.367,0.095],[0.408,0.095],[0.448,0.103],[0.472,0.113],[0.488,0.15],[0.496,0.3],[0.5,0]];

// ---------- styling ----------
const BLACK = '#151515', BLUE = '#3557c8', GREEN = '#48b336', RED = '#ec2a22', MAG = '#bd5fbd';
const DASH = [6, 4], DASHDOT = [7, 3, 1.5, 3];

const pts = a => a.map(([x, y]) => ({ x, y }));
function curve(data, color, dash) {
  return { data: pts(data), showLine: true, borderColor: color, borderWidth: 1.1, borderDash: dash || [],
           pointRadius: 0, pointHoverRadius: 0, cubicInterpolationMode: 'monotone', fill: false };
}
function marks(data, color, style, r) {
  return { data: pts(data), showLine: false, pointStyle: style, pointRadius: r, pointHoverRadius: r,
           pointBorderColor: color, pointBackgroundColor: 'rgba(0,0,0,0)', pointBorderWidth: 1, borderColor: color };
}

// frame with inward major/minor ticks on all four sides
const framePlugin = {
  id: 'frame',
  afterDatasetsDraw(chart, args, o) {
    const { ctx, chartArea: a, scales: { x, y } } = chart;
    ctx.save();
    ctx.strokeStyle = '#1a1a1a';
    ctx.lineWidth = 1;
    const seg = (x1, y1, x2, y2) => { ctx.beginPath(); ctx.moveTo(x1, y1); ctx.lineTo(x2, y2); ctx.stroke(); };
    const xt = (v, len) => { const p = Math.round(x.getPixelForValue(v)) + 0.5; seg(p, a.bottom, p, a.bottom - len); seg(p, a.top, p, a.top + len); };
    const yt = (v, len) => { const p = Math.round(y.getPixelForValue(v)) + 0.5; seg(a.left, p, a.left + len, p); seg(a.right, p, a.right - len, p); };
    for (let i = Math.ceil(x.min / o.xMinor - 1e-6); i * o.xMinor <= x.max + 1e-9; i++) xt(i * o.xMinor, 2.5);
    for (let i = Math.ceil(y.min / o.yMinor - 1e-6); i * o.yMinor <= y.max + 1e-9; i++) yt(i * o.yMinor, 2.5);
    x.ticks.forEach(t => xt(t.value, 5));
    y.ticks.forEach(t => yt(t.value, 5));
    ctx.lineWidth = 1.4;
    ctx.strokeRect(a.left, a.top, a.right - a.left, a.bottom - a.top);
    ctx.restore();
  }
};

const fmt = v => String(+(+v).toFixed(2)).replace('-', '\u2212');

function makePanel(id, cfg, datasets) {
  new Chart(document.getElementById(id), {
    type: 'scatter',
    data: { datasets },
    plugins: [framePlugin],
    options: {
      responsive: false, animation: false, devicePixelRatio: 1,
      events: [],
      layout: { padding: { top: cfg.padTop, right: cfg.padRight, left: 0, bottom: 0 } },
      plugins: { legend: { display: false }, tooltip: { enabled: false },
                 frame: { xMinor: 0.05, yMinor: cfg.yMinor } },
      scales: {
        x: { type: 'linear', min: -0.52, max: 0.52,
             grid: { display: false, drawTicks: false }, border: { display: false },
             ticks: { stepSize: 0.1, includeBounds: false, padding: 4, maxRotation: 0, autoSkip: false,
                      color: '#222', font: { family: 'Liberation Sans', size: 11 }, callback: fmt },
             afterFit: s => { s.height = cfg.xH; } },
        y: { type: 'linear', min: cfg.ymin, max: cfg.ymax,
             grid: { display: false, drawTicks: false }, border: { display: false },
             ticks: { stepSize: cfg.yStep, includeBounds: false, padding: 4, autoSkip: false,
                      color: '#222', font: { family: 'Liberation Sans', size: 11 }, callback: fmt },
             afterBuildTicks: s => { s.ticks = s.ticks.filter(t => t.value <= cfg.yLabelMax + 1e-9); },
             afterFit: s => { s.width = cfg.yW; } }
      }
    }
  });
}

function group(tri, circ, diam, sq, bk, bl, gr, rd, mg) {
  return [
    curve(mg[0], MAG), curve(mg[1], MAG, DASH),
    curve(rd[0], RED), curve(rd[1], RED, DASH), curve(rd[2], RED, DASHDOT),
    curve(gr[0], GREEN), curve(gr[1], GREEN, DASH), curve(gr[2], GREEN, DASHDOT),
    curve(bl[0], BLUE), curve(bl[1], BLUE, DASH), curve(bl[2], BLUE, DASHDOT),
    curve(bk[0], BLACK), curve(bk[1], BLACK, DASH), curve(bk[2], BLACK, DASHDOT),
    marks(sq, RED, 'rect', 4), marks(diam, GREEN, 'rectRot', 3.8),
    marks(circ, BLUE, 'circle', 3.4), marks(tri, BLACK, 'triangle', 4.3)
  ];
}

makePanel('cA', { ymin: -0.75, ymax: 2.504, yStep: 0.5, yMinor: 0.1, yLabelMax: 2.5, padTop: 17, padRight: 12, yW: 53, xH: 30 },
  group(mvTri, mvCirc, mvDiam, mvSq,
        [mvBlackSolid, mvBlackDash, mvBlackDot], [mvBlueSolid, mvBlueDash, mvBlueDot],
        [mvGreenSolid, mvGreenDash, mvGreenDot], [mvRedSolid, mvRedDash, mvRedDot], [mvMagSolid, mvMagDash]));

makePanel('cB', { ymin: -0.098, ymax: 2.506, yStep: 0.5, yMinor: 0.1, yLabelMax: 2.5, padTop: 8, padRight: 5, yW: 60, xH: 31 },
  group(mhTri, mhCirc, mhDiam, mhSq,
        [mhBlackSolid, mhBlackDash, mhBlackDot], [mhBlueSolid, mhBlueDash, mhBlueDot],
        [mhGreenSolid, mhGreenDash, mhGreenDot], [mhRedSolid, mhRedDash, mhRedDot], [mhMagSolid, mhMagDash]));

makePanel('cC', { ymin: 0, ymax: 0.902, yStep: 0.1, yMinor: 0.02, yLabelMax: 0.9, padTop: 23, padRight: 12, yW: 47, xH: 25 },
  group(rvTri, rvCirc, rvDiam, rvSq,
        [rvBlackSolid, rvBlackDash, rvBlackDot], [rvBlueSolid, rvBlueDash, rvBlueDot],
        [rvGreenSolid, rvGreenDash, rvGreenDot], [rvRedSolid, rvRedDash, rvRedDot], [rvMagSolid, rvMagDash]));

makePanel('cD', { ymin: 0, ymax: 0.7006, yStep: 0.1, yMinor: 0.02, yLabelMax: 0.6, padTop: 23, padRight: 5, yW: 60, xH: 25 },
  group(rhTri, rhCirc, rhDiam, rhSq,
        [rhBlackSolid, rhBlackDash, rhBlackDot], [rhBlueSolid, rhBlueDash, rhBlueDot],
        [rhGreenSolid, rhGreenDash, rhGreenDot], [rhRedSolid, rhRedDash, rhRedDot], [rhMagSolid, rhMagDash]));

// stretch each caption to its set width
document.querySelectorAll('.cap').forEach(el => {
  const k = (+el.dataset.w) / el.getBoundingClientRect().width;
  el.style.transform = 'translateX(-50%) scaleX(' + k.toFixed(3) + ')';
});
</script>
</body>
</html>
